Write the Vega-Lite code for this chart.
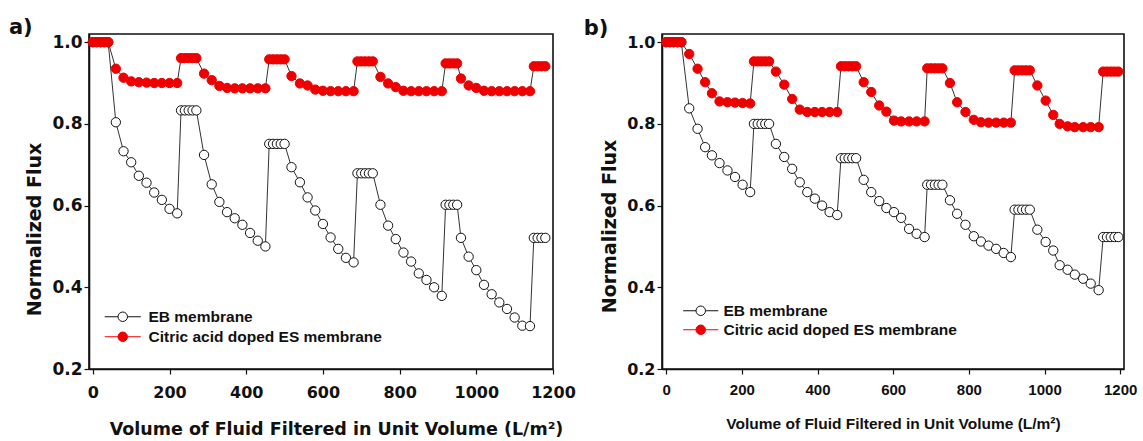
{
"$schema": "https://vega.github.io/schema/vega-lite/v6.json",
"padding": {"left": 8, "top": 16, "right": 0, "bottom": 0},
"background": "white",
"config": {
 "view": {"stroke": "#111", "strokeWidth": 1.6},
 "axis": {"grid": false, "domainColor": "#111", "domainWidth": 1.6, "tickColor": "#111", "tickWidth": 1.2, "tickSize": 5, "labelColor": "#111", "titleColor": "#111", "labelFontWeight": "bold", "titleFontWeight": "bold", "labelFlush": false, "labelOverlap": false}
},
"datasets": {
 "a": [
  {"x":0,"y":1,"s":"EB"},{"x":10,"y":1,"s":"EB"},{"x":20,"y":1,"s":"EB"},{"x":30,"y":1,"s":"EB"},{"x":40,"y":1,"s":"EB"},
  {"x":60,"y":0.804,"s":"EB"},{"x":80,"y":0.733,"s":"EB"},{"x":100,"y":0.706,"s":"EB"},{"x":120,"y":0.673,"s":"EB"},{"x":140,"y":0.656,"s":"EB"},{"x":160,"y":0.632,"s":"EB"},{"x":180,"y":0.614,"s":"EB"},{"x":200,"y":0.592,"s":"EB"},{"x":220,"y":0.581,"s":"EB"},
  {"x":230,"y":0.833,"s":"EB"},{"x":240,"y":0.833,"s":"EB"},{"x":250,"y":0.833,"s":"EB"},{"x":260,"y":0.833,"s":"EB"},{"x":270,"y":0.833,"s":"EB"},
  {"x":290,"y":0.724,"s":"EB"},{"x":310,"y":0.652,"s":"EB"},{"x":330,"y":0.609,"s":"EB"},{"x":350,"y":0.584,"s":"EB"},{"x":370,"y":0.569,"s":"EB"},{"x":390,"y":0.553,"s":"EB"},{"x":410,"y":0.533,"s":"EB"},{"x":430,"y":0.514,"s":"EB"},{"x":450,"y":0.5,"s":"EB"},
  {"x":460,"y":0.751,"s":"EB"},{"x":470,"y":0.751,"s":"EB"},{"x":480,"y":0.751,"s":"EB"},{"x":490,"y":0.751,"s":"EB"},{"x":500,"y":0.751,"s":"EB"},
  {"x":518,"y":0.694,"s":"EB"},{"x":540,"y":0.657,"s":"EB"},{"x":560,"y":0.62,"s":"EB"},{"x":580,"y":0.588,"s":"EB"},{"x":600,"y":0.555,"s":"EB"},{"x":620,"y":0.522,"s":"EB"},{"x":640,"y":0.494,"s":"EB"},{"x":660,"y":0.472,"s":"EB"},{"x":680,"y":0.461,"s":"EB"},
  {"x":690,"y":0.679,"s":"EB"},{"x":700,"y":0.679,"s":"EB"},{"x":710,"y":0.679,"s":"EB"},{"x":720,"y":0.679,"s":"EB"},{"x":730,"y":0.679,"s":"EB"},
  {"x":750,"y":0.602,"s":"EB"},{"x":770,"y":0.551,"s":"EB"},{"x":790,"y":0.518,"s":"EB"},{"x":810,"y":0.485,"s":"EB"},{"x":830,"y":0.463,"s":"EB"},{"x":850,"y":0.434,"s":"EB"},{"x":870,"y":0.418,"s":"EB"},{"x":890,"y":0.4,"s":"EB"},{"x":910,"y":0.379,"s":"EB"},
  {"x":920,"y":0.602,"s":"EB"},{"x":930,"y":0.602,"s":"EB"},{"x":940,"y":0.602,"s":"EB"},{"x":950,"y":0.602,"s":"EB"},
  {"x":960,"y":0.521,"s":"EB"},{"x":980,"y":0.475,"s":"EB"},{"x":1000,"y":0.442,"s":"EB"},{"x":1020,"y":0.406,"s":"EB"},{"x":1040,"y":0.383,"s":"EB"},{"x":1060,"y":0.363,"s":"EB"},{"x":1080,"y":0.347,"s":"EB"},{"x":1100,"y":0.326,"s":"EB"},{"x":1120,"y":0.306,"s":"EB"},{"x":1140,"y":0.305,"s":"EB"},
  {"x":1150,"y":0.521,"s":"EB"},{"x":1160,"y":0.521,"s":"EB"},{"x":1170,"y":0.521,"s":"EB"},{"x":1180,"y":0.521,"s":"EB"},
  {"x":0,"y":1,"s":"ES"},{"x":10,"y":1,"s":"ES"},{"x":20,"y":1,"s":"ES"},{"x":30,"y":1,"s":"ES"},{"x":40,"y":1,"s":"ES"},
  {"x":60,"y":0.935,"s":"ES"},{"x":80,"y":0.913,"s":"ES"},{"x":100,"y":0.904,"s":"ES"},{"x":120,"y":0.902,"s":"ES"},{"x":140,"y":0.901,"s":"ES"},{"x":160,"y":0.9,"s":"ES"},{"x":180,"y":0.9,"s":"ES"},{"x":200,"y":0.9,"s":"ES"},{"x":220,"y":0.9,"s":"ES"},
  {"x":230,"y":0.961,"s":"ES"},{"x":240,"y":0.961,"s":"ES"},{"x":250,"y":0.961,"s":"ES"},{"x":260,"y":0.961,"s":"ES"},{"x":270,"y":0.961,"s":"ES"},
  {"x":290,"y":0.923,"s":"ES"},{"x":310,"y":0.907,"s":"ES"},{"x":330,"y":0.893,"s":"ES"},{"x":350,"y":0.888,"s":"ES"},{"x":370,"y":0.887,"s":"ES"},{"x":390,"y":0.887,"s":"ES"},{"x":410,"y":0.887,"s":"ES"},{"x":430,"y":0.887,"s":"ES"},{"x":450,"y":0.887,"s":"ES"},
  {"x":460,"y":0.958,"s":"ES"},{"x":470,"y":0.958,"s":"ES"},{"x":480,"y":0.958,"s":"ES"},{"x":490,"y":0.958,"s":"ES"},{"x":500,"y":0.958,"s":"ES"},
  {"x":518,"y":0.917,"s":"ES"},{"x":540,"y":0.899,"s":"ES"},{"x":560,"y":0.894,"s":"ES"},{"x":580,"y":0.884,"s":"ES"},{"x":600,"y":0.881,"s":"ES"},{"x":620,"y":0.88,"s":"ES"},{"x":640,"y":0.88,"s":"ES"},{"x":660,"y":0.88,"s":"ES"},{"x":680,"y":0.88,"s":"ES"},
  {"x":690,"y":0.953,"s":"ES"},{"x":700,"y":0.953,"s":"ES"},{"x":710,"y":0.953,"s":"ES"},{"x":720,"y":0.953,"s":"ES"},{"x":730,"y":0.953,"s":"ES"},
  {"x":750,"y":0.915,"s":"ES"},{"x":770,"y":0.899,"s":"ES"},{"x":790,"y":0.89,"s":"ES"},{"x":810,"y":0.881,"s":"ES"},{"x":830,"y":0.88,"s":"ES"},{"x":850,"y":0.88,"s":"ES"},{"x":870,"y":0.88,"s":"ES"},{"x":890,"y":0.88,"s":"ES"},{"x":910,"y":0.88,"s":"ES"},
  {"x":920,"y":0.948,"s":"ES"},{"x":930,"y":0.948,"s":"ES"},{"x":940,"y":0.948,"s":"ES"},{"x":950,"y":0.948,"s":"ES"},
  {"x":960,"y":0.911,"s":"ES"},{"x":980,"y":0.894,"s":"ES"},{"x":1000,"y":0.888,"s":"ES"},{"x":1020,"y":0.881,"s":"ES"},{"x":1040,"y":0.88,"s":"ES"},{"x":1060,"y":0.88,"s":"ES"},{"x":1080,"y":0.88,"s":"ES"},{"x":1100,"y":0.88,"s":"ES"},{"x":1120,"y":0.88,"s":"ES"},{"x":1140,"y":0.88,"s":"ES"},
  {"x":1150,"y":0.941,"s":"ES"},{"x":1160,"y":0.941,"s":"ES"},{"x":1170,"y":0.941,"s":"ES"},{"x":1180,"y":0.941,"s":"ES"}
 ],
 "b": [
  {"x":0,"y":1,"s":"EB"},{"x":10,"y":1,"s":"EB"},{"x":20,"y":1,"s":"EB"},{"x":30,"y":1,"s":"EB"},{"x":40,"y":1,"s":"EB"},
  {"x":61,"y":0.838,"s":"EB"},{"x":83,"y":0.788,"s":"EB"},{"x":103,"y":0.743,"s":"EB"},{"x":121,"y":0.723,"s":"EB"},{"x":141,"y":0.704,"s":"EB"},{"x":162,"y":0.686,"s":"EB"},{"x":182,"y":0.67,"s":"EB"},{"x":202,"y":0.651,"s":"EB"},{"x":222,"y":0.633,"s":"EB"},
  {"x":232,"y":0.8,"s":"EB"},{"x":242,"y":0.8,"s":"EB"},{"x":252,"y":0.8,"s":"EB"},{"x":262,"y":0.8,"s":"EB"},{"x":272,"y":0.8,"s":"EB"},
  {"x":290,"y":0.751,"s":"EB"},{"x":312,"y":0.719,"s":"EB"},{"x":333,"y":0.69,"s":"EB"},{"x":353,"y":0.657,"s":"EB"},{"x":373,"y":0.633,"s":"EB"},{"x":393,"y":0.617,"s":"EB"},{"x":412,"y":0.6,"s":"EB"},{"x":432,"y":0.584,"s":"EB"},{"x":452,"y":0.577,"s":"EB"},
  {"x":462,"y":0.716,"s":"EB"},{"x":472,"y":0.716,"s":"EB"},{"x":482,"y":0.716,"s":"EB"},{"x":492,"y":0.716,"s":"EB"},{"x":502,"y":0.716,"s":"EB"},
  {"x":522,"y":0.663,"s":"EB"},{"x":542,"y":0.633,"s":"EB"},{"x":563,"y":0.611,"s":"EB"},{"x":582,"y":0.594,"s":"EB"},{"x":602,"y":0.584,"s":"EB"},{"x":621,"y":0.57,"s":"EB"},{"x":642,"y":0.543,"s":"EB"},{"x":662,"y":0.531,"s":"EB"},{"x":683,"y":0.523,"s":"EB"},
  {"x":690,"y":0.651,"s":"EB"},{"x":700,"y":0.651,"s":"EB"},{"x":710,"y":0.651,"s":"EB"},{"x":720,"y":0.651,"s":"EB"},{"x":730,"y":0.651,"s":"EB"},
  {"x":750,"y":0.613,"s":"EB"},{"x":769,"y":0.58,"s":"EB"},{"x":791,"y":0.553,"s":"EB"},{"x":813,"y":0.525,"s":"EB"},{"x":832,"y":0.512,"s":"EB"},{"x":852,"y":0.502,"s":"EB"},{"x":872,"y":0.494,"s":"EB"},{"x":892,"y":0.484,"s":"EB"},{"x":911,"y":0.474,"s":"EB"},
  {"x":921,"y":0.59,"s":"EB"},{"x":931,"y":0.59,"s":"EB"},{"x":941,"y":0.59,"s":"EB"},{"x":951,"y":0.59,"s":"EB"},{"x":961,"y":0.59,"s":"EB"},
  {"x":981,"y":0.541,"s":"EB"},{"x":1003,"y":0.511,"s":"EB"},{"x":1023,"y":0.49,"s":"EB"},{"x":1040,"y":0.454,"s":"EB"},{"x":1061,"y":0.443,"s":"EB"},{"x":1080,"y":0.431,"s":"EB"},{"x":1102,"y":0.421,"s":"EB"},{"x":1122,"y":0.409,"s":"EB"},{"x":1143,"y":0.393,"s":"EB"},
  {"x":1155,"y":0.523,"s":"EB"},{"x":1165,"y":0.523,"s":"EB"},{"x":1175,"y":0.523,"s":"EB"},{"x":1185,"y":0.523,"s":"EB"},{"x":1195,"y":0.523,"s":"EB"},
  {"x":0,"y":1,"s":"ES"},{"x":10,"y":1,"s":"ES"},{"x":20,"y":1,"s":"ES"},{"x":30,"y":1,"s":"ES"},{"x":40,"y":1,"s":"ES"},
  {"x":61,"y":0.971,"s":"ES"},{"x":83,"y":0.935,"s":"ES"},{"x":103,"y":0.902,"s":"ES"},{"x":121,"y":0.875,"s":"ES"},{"x":141,"y":0.855,"s":"ES"},{"x":162,"y":0.853,"s":"ES"},{"x":182,"y":0.852,"s":"ES"},{"x":202,"y":0.851,"s":"ES"},{"x":222,"y":0.85,"s":"ES"},
  {"x":232,"y":0.953,"s":"ES"},{"x":242,"y":0.953,"s":"ES"},{"x":252,"y":0.953,"s":"ES"},{"x":262,"y":0.953,"s":"ES"},{"x":272,"y":0.953,"s":"ES"},
  {"x":290,"y":0.928,"s":"ES"},{"x":312,"y":0.896,"s":"ES"},{"x":333,"y":0.861,"s":"ES"},{"x":353,"y":0.835,"s":"ES"},{"x":373,"y":0.829,"s":"ES"},{"x":393,"y":0.829,"s":"ES"},{"x":412,"y":0.829,"s":"ES"},{"x":432,"y":0.829,"s":"ES"},{"x":452,"y":0.829,"s":"ES"},
  {"x":462,"y":0.941,"s":"ES"},{"x":472,"y":0.941,"s":"ES"},{"x":482,"y":0.941,"s":"ES"},{"x":492,"y":0.941,"s":"ES"},{"x":502,"y":0.941,"s":"ES"},
  {"x":522,"y":0.902,"s":"ES"},{"x":542,"y":0.878,"s":"ES"},{"x":563,"y":0.845,"s":"ES"},{"x":582,"y":0.83,"s":"ES"},{"x":602,"y":0.808,"s":"ES"},{"x":621,"y":0.806,"s":"ES"},{"x":642,"y":0.806,"s":"ES"},{"x":662,"y":0.806,"s":"ES"},{"x":683,"y":0.806,"s":"ES"},
  {"x":690,"y":0.936,"s":"ES"},{"x":700,"y":0.936,"s":"ES"},{"x":710,"y":0.936,"s":"ES"},{"x":720,"y":0.936,"s":"ES"},{"x":730,"y":0.936,"s":"ES"},
  {"x":750,"y":0.9,"s":"ES"},{"x":769,"y":0.853,"s":"ES"},{"x":791,"y":0.829,"s":"ES"},{"x":813,"y":0.81,"s":"ES"},{"x":832,"y":0.804,"s":"ES"},{"x":852,"y":0.803,"s":"ES"},{"x":872,"y":0.803,"s":"ES"},{"x":892,"y":0.803,"s":"ES"},{"x":911,"y":0.803,"s":"ES"},
  {"x":921,"y":0.931,"s":"ES"},{"x":931,"y":0.931,"s":"ES"},{"x":941,"y":0.931,"s":"ES"},{"x":951,"y":0.931,"s":"ES"},{"x":961,"y":0.931,"s":"ES"},
  {"x":981,"y":0.894,"s":"ES"},{"x":1003,"y":0.857,"s":"ES"},{"x":1023,"y":0.822,"s":"ES"},{"x":1040,"y":0.8,"s":"ES"},{"x":1061,"y":0.794,"s":"ES"},{"x":1080,"y":0.792,"s":"ES"},{"x":1102,"y":0.792,"s":"ES"},{"x":1122,"y":0.792,"s":"ES"},{"x":1143,"y":0.792,"s":"ES"},
  {"x":1155,"y":0.928,"s":"ES"},{"x":1165,"y":0.928,"s":"ES"},{"x":1175,"y":0.928,"s":"ES"},{"x":1185,"y":0.928,"s":"ES"},{"x":1195,"y":0.928,"s":"ES"}
 ]
},
"resolve": {"scale": {"x": "independent", "y": "independent", "fill": "independent", "stroke": "independent"}, "legend": {"fill": "independent", "stroke": "independent"}},
"spacing": 5,
"hconcat": [
 {
  "width": 464, "height": 335,
  "title": {"text": "a)", "anchor": "start", "font": "DejaVu Sans", "fontSize": 21, "fontWeight": "bold", "color": "#111", "dx": -17, "dy": 7, "offset": 2},
  "data": {"name": "a"},
  "layer": [
   {"mark": {"type": "line", "color": "#333", "strokeWidth": 1},
    "encoding": {
     "x": {"field": "x", "type": "quantitative", "scale": {"domain": [-10, 1200], "nice": false, "zero": false},
      "axis": {"values": [0,200,400,600,800,1000,1200], "format": "d", "title": "Volume of Fluid Filtered in Unit Volume (L/m²)", "labelFont": "DejaVu Sans", "labelFontSize": 16, "labelPadding": 10, "titleFont": "DejaVu Sans", "titleFontSize": 17.5, "titlePadding": 20, "titleX": 247}},
     "y": {"field": "y", "type": "quantitative", "scale": {"domain": [0.2, 1.02], "nice": false, "zero": false},
      "axis": {"values": [0.2,0.4,0.6,0.8,1.0], "format": ".1f", "title": "Normalized Flux", "labelFont": "DejaVu Sans", "labelFontSize": 17, "labelPadding": 2, "titleFont": "DejaVu Sans", "titleFontSize": 19, "titlePadding": 7, "titleY": 195}},
     "detail": {"field": "s"}
    }},
   {"mark": {"type": "circle", "size": 87, "opacity": 1, "strokeWidth": 1},
    "encoding": {
     "x": {"field": "x", "type": "quantitative"},
     "y": {"field": "y", "type": "quantitative"},
     "fill": {"field": "s", "type": "nominal", "scale": {"domain": ["EB", "ES"], "range": ["white", "#ee0000"]},
      "legend": {"title": null, "orient": "none", "legendX": 26, "legendY": 275, "labelFont": "Liberation Sans", "labelFontSize": 15.5, "labelFontWeight": "bold", "labelColor": "#111", "labelLimit": 0, "labelOffset": 18, "rowPadding": 3, "symbolSize": 90, "symbolStrokeWidth": 1,
       "symbolType": "M-3.8,0L-1,0M1,0L3.8,0M1,0C1,0.552,0.552,1,0,1C-0.552,1,-1,0.552,-1,0C-1,-0.552,-0.552,-1,0,-1C0.552,-1,1,-0.552,1,0Z",
       "labelExpr": "datum.label == 'EB' ? 'EB membrane' : 'Citric acid doped ES membrane'",
       "encode": {"symbols": {"update": {"stroke": {"value": "#333"}, "opacity": {"value": 1}}}}}},
     "stroke": {"field": "s", "type": "nominal", "scale": {"domain": ["EB", "ES"], "range": ["#111", "#ee0000"]}, "legend": null}
    }}
  ]
 },
 {
  "width": 462, "height": 335,
  "title": {"text": "b)", "anchor": "start", "font": "DejaVu Sans", "fontSize": 21, "fontWeight": "bold", "color": "#111", "dx": -17, "dy": 7, "offset": 2},
  "data": {"name": "b"},
  "layer": [
   {"mark": {"type": "line", "color": "#333", "strokeWidth": 1},
    "encoding": {
     "x": {"field": "x", "type": "quantitative", "scale": {"domain": [-11, 1210], "nice": false, "zero": false},
      "axis": {"values": [0,200,400,600,800,1000,1200], "format": "d", "title": "Volume of Fluid Filtered in Unit Volume (L/m²)", "labelFont": "Liberation Sans", "labelFontSize": 15, "labelPadding": 8, "titleFont": "Liberation Sans", "titleFontSize": 15.5, "titlePadding": 19}},
     "y": {"field": "y", "type": "quantitative", "scale": {"domain": [0.2, 1.02], "nice": false, "zero": false},
      "axis": {"values": [0.2,0.4,0.6,0.8,1.0], "format": ".1f", "title": "Normalized Flux", "labelFont": "DejaVu Sans", "labelFontSize": 16, "labelPadding": 2, "titleFont": "DejaVu Sans", "titleFontSize": 19, "titlePadding": 7, "titleY": 192}},
     "detail": {"field": "s"}
    }},
   {"mark": {"type": "circle", "size": 87, "opacity": 1, "strokeWidth": 1},
    "encoding": {
     "x": {"field": "x", "type": "quantitative"},
     "y": {"field": "y", "type": "quantitative"},
     "fill": {"field": "s", "type": "nominal", "scale": {"domain": ["EB", "ES"], "range": ["white", "#ee0000"]},
      "legend": {"title": null, "orient": "none", "legendX": 31, "legendY": 269, "labelFont": "Liberation Sans", "labelFontSize": 15.5, "labelFontWeight": "bold", "labelColor": "#111", "labelLimit": 0, "labelOffset": 15, "rowPadding": 2, "symbolSize": 90, "symbolStrokeWidth": 1,
       "symbolType": "M-3.7,0L-1,0M1,0L3.7,0M1,0C1,0.552,0.552,1,0,1C-0.552,1,-1,0.552,-1,0C-1,-0.552,-0.552,-1,0,-1C0.552,-1,1,-0.552,1,0Z",
       "labelExpr": "datum.label == 'EB' ? 'EB membrane' : 'Citric acid doped ES membrane'",
       "encode": {"symbols": {"update": {"stroke": {"value": "#333"}, "opacity": {"value": 1}}}}}},
     "stroke": {"field": "s", "type": "nominal", "scale": {"domain": ["EB", "ES"], "range": ["#111", "#ee0000"]}, "legend": null}
    }}
  ]
 }
]
}
